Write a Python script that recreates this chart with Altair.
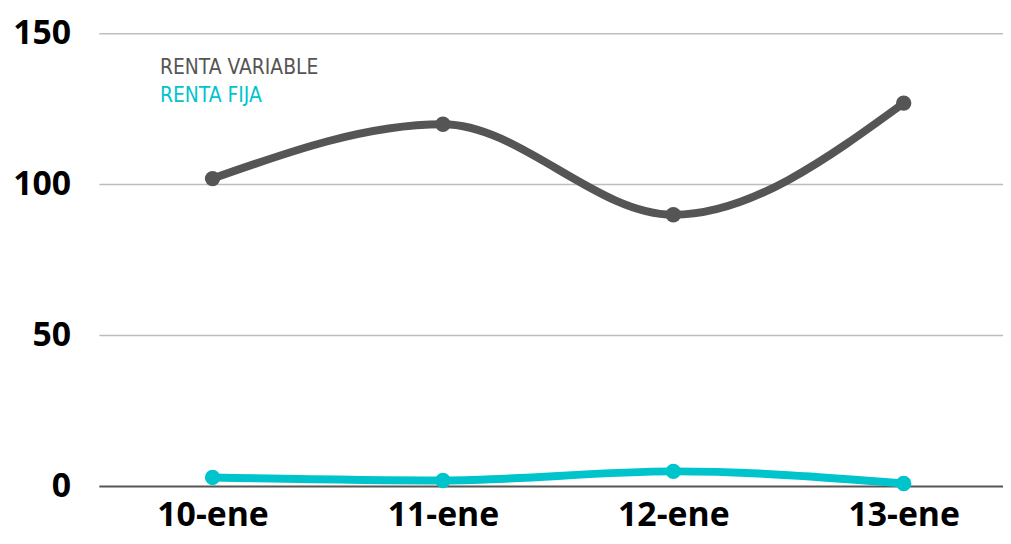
import altair as alt
import pandas as pd

dates = ["10-ene", "11-ene", "12-ene", "13-ene"]
renta_variable = [102, 120, 90, 127]
renta_fija = [3, 2, 5, 1]
series = ["RENTA VARIABLE", "RENTA FIJA"]
colors = ["#555555", "#00c4cc"]
y_ticks = [0, 50, 100, 150]

rows = []
for s, vals in zip(series, [renta_variable, renta_fija]):
    for d, v in zip(dates, vals):
        rows.append({"fecha": d, "valor": v, "serie": s})
df = pd.DataFrame(rows)

x = alt.X(
    "fecha:O", sort=dates,
    scale=alt.Scale(type="point", range=[114, 810], padding=0),
    axis=alt.Axis(title=None, labelAngle=0, domain=False, ticks=False, grid=False,
                  labelFont="Open Sans", labelFontWeight="bold", labelFontSize=34,
                  labelColor="#000000", labelPadding=12),
)
yscale = alt.Scale(domain=[0, 150], nice=False, zero=True)
y = alt.Y(
    "valor:Q", scale=yscale,
    axis=alt.Axis(title=None, values=y_ticks, domain=False, ticks=False, grid=False,
                  labelFont="Open Sans", labelFontWeight="bold", labelFontSize=34,
                  labelColor="#000000", labelPadding=29),
)
color = alt.Color("serie:N", scale=alt.Scale(domain=series, range=colors), legend=None)

grid_df = pd.DataFrame({"valor": y_ticks})
grid = alt.Chart(grid_df).mark_rule().encode(
    y=alt.Y("valor:Q", scale=yscale),
    x=alt.value(0), x2=alt.value(910),
    color=alt.condition(alt.datum.valor == 0, alt.value("#555555"), alt.value("#bdbdbd")),
    strokeWidth=alt.condition(alt.datum.valor == 0, alt.value(2), alt.value(1.5)),
)

base = alt.Chart(df).encode(x=x, y=y, color=color, detail="serie:N")
lines = base.mark_line(interpolate="monotone", strokeWidth=8, strokeCap="round")
points = base.mark_circle(size=240, opacity=1)

legfont = "'DejaVu Sans Condensed', 'Roboto', sans-serif"
leg_df = pd.DataFrame({"serie": series})
leg1 = alt.Chart(leg_df).transform_filter(alt.datum.serie == series[0]).mark_text(
    align="left", baseline="alphabetic", font=legfont, fontSize=21, color=colors[0]
).encode(text="serie:N", x=alt.value(61), y=alt.value(41))
leg2 = alt.Chart(leg_df).transform_filter(alt.datum.serie == series[1]).mark_text(
    align="left", baseline="alphabetic", font=legfont, fontSize=21, color=colors[1]
).encode(text="serie:N", x=alt.value(61), y=alt.value(69))

chart = alt.layer(grid, lines, points, leg1, leg2).properties(
    width=910, height=456,
    autosize=alt.AutoSizeParams(type="none"),
    padding={"left": 92, "top": 24, "right": 0, "bottom": 48},
    background="#ffffff",
).configure_view(stroke=None)

chart.save("out.html", embed_options={"renderer": "svg", "actions": False})
